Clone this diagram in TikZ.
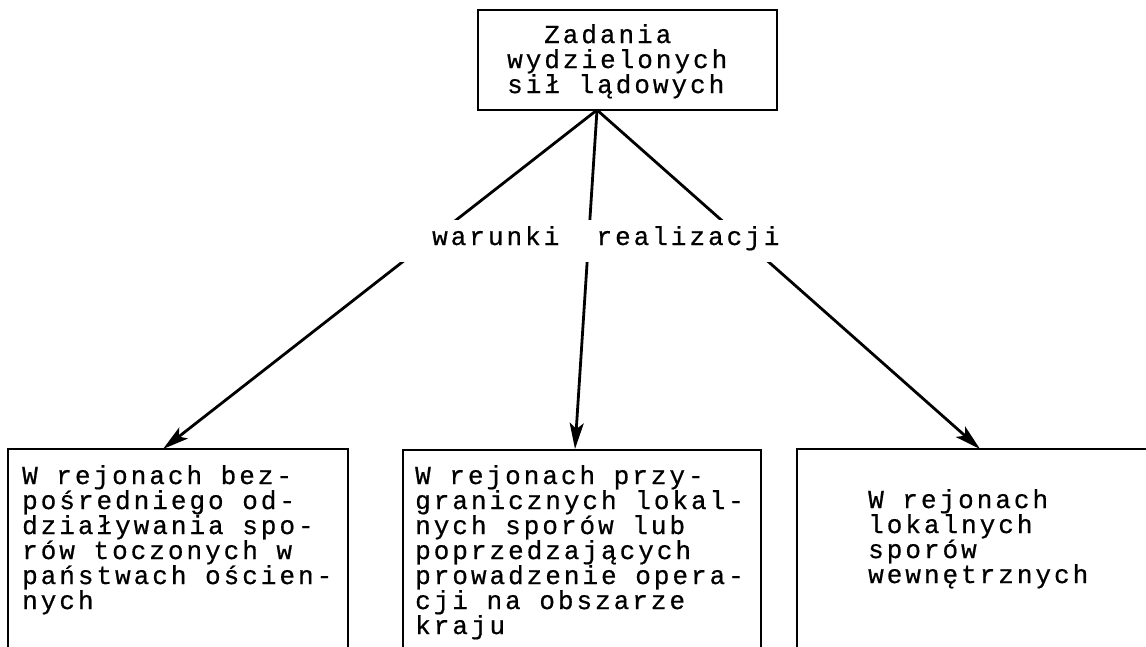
\documentclass[tikz,border=0pt]{standalone}
\usepackage{fontspec}
\newfontfamily\mono[LetterSpace=11.5,FakeBold=0.6]{Liberation Mono}
\usetikzlibrary{arrows.meta}
\begin{document}
\begin{tikzpicture}[x=1pt,y=-1pt,
  txt/.style={font=\mono\fontsize{26}{25}\selectfont, inner sep=0pt, align=left},
  boxline/.style={line width=2pt},
  conn/.style={line width=2.8pt, -{Stealth[length=26pt,width=14pt,inset=6pt]}},
]
\useasboundingbox[fill=white] (0,0) rectangle (1146,647);
\node[draw, boxline, minimum width=299pt, minimum height=100pt, inner sep=0pt] (top) at (627.5,60) {};
\node[txt, anchor=north west] (toptxt) at (507,24) {\hspace*{37pt}Zadania\\wydzielonych\\sił lądowych};
\coordinate (apex) at (597,110);
\coordinate (tL) at (163,449);
\coordinate (tM) at (575,449);
\coordinate (tR) at (980,449);
\draw[conn] (apex) -- (tL);
\draw[conn] (apex) -- (tM);
\draw[conn] (apex) -- (tR);
\fill[white] (400,220) rectangle (792,262);
\node[txt, anchor=base west] (lab) at (432,245) {warunki\ \ realizacji};
% bottom boxes
\draw[boxline] (8,660) -- (8,449) -- (348,449) -- (348,660);
\draw[boxline] (403,660) -- (403,450) -- (761,450) -- (761,660);
\draw[boxline] (797,660) -- (797,449) -- (1160,449);
\node[txt, anchor=north west] (bl) at (22,465) {W rejonach bez-\\pośredniego od-\\działywania spo-\\rów toczonych w\\państwach ościen-\\nych};
\node[txt, anchor=north west] (bm) at (415,465) {W rejonach przy-\\granicznych lokal-\\nych sporów lub\\poprzedzających\\prowadzenie opera-\\cji na obszarze\\kraju};
\node[txt, anchor=north west] (br) at (868,489) {W rejonach\\lokalnych\\sporów\\wewnętrznych};
\end{tikzpicture}
\end{document}
